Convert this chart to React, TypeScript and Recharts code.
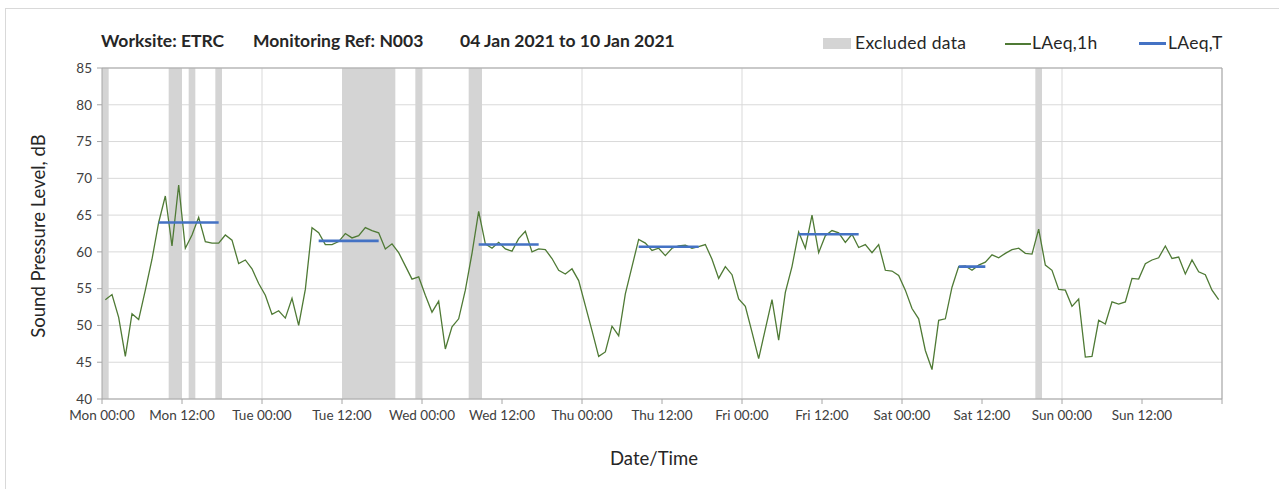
import React from "react"
import {
  ComposedChart,
  Line,
  XAxis,
  YAxis,
  CartesianGrid,
  ReferenceArea,
  ReferenceLine,
} from "recharts"

// hourly LAeq,1h per day, 00:00 .. 23:00
const MON = [53.5, 54.2, 51.1, 45.8, 51.6, 50.8, 54.8, 59.0, 64.0, 67.6, 60.8, 69.1, 60.5, 62.3, 64.7, 61.4, 61.2, 61.2, 62.3, 61.6, 58.4, 58.9, 57.7, 55.7]
const TUE = [54.1, 51.5, 52.0, 51.0, 53.7, 50.0, 54.9, 63.3, 62.6, 61.0, 61.0, 61.4, 62.5, 61.9, 62.2, 63.3, 62.9, 62.6, 60.4, 61.1, 59.9, 58.1, 56.3, 56.6]
const WED = [54.1, 51.8, 53.3, 46.8, 49.8, 50.9, 54.8, 59.8, 65.5, 61.1, 60.5, 61.3, 60.4, 60.1, 61.8, 62.8, 60.0, 60.4, 60.3, 59.1, 57.5, 57.0, 57.7, 56.1]
const THU = [52.7, 49.3, 45.8, 46.4, 49.9, 48.6, 54.3, 58.0, 61.7, 61.2, 60.2, 60.5, 59.5, 60.5, 60.8, 60.9, 60.5, 60.7, 61.0, 59.0, 56.4, 58.0, 56.9, 53.6]
const FRI = [52.6, 49.1, 45.5, 49.5, 53.5, 48.0, 54.5, 58.0, 62.7, 60.5, 65.0, 59.9, 62.2, 62.9, 62.6, 61.3, 62.4, 60.6, 61.0, 59.9, 61.0, 57.5, 57.4, 56.8]
const SAT = [54.8, 52.3, 50.9, 46.6, 44.0, 50.7, 50.9, 55.2, 58.0, 58.1, 57.5, 58.2, 58.6, 59.6, 59.2, 59.8, 60.3, 60.5, 59.8, 59.7, 63.1, 58.2, 57.5, 54.9]
const SUN = [54.8, 52.6, 53.6, 45.7, 45.8, 50.7, 50.2, 53.2, 52.9, 53.2, 56.4, 56.3, 58.4, 58.9, 59.2, 60.8, 59.1, 59.3, 57.0, 58.9, 57.3, 56.9, 54.8, 53.5]
const DAYS = [MON, TUE, WED, THU, FRI, SAT, SUN]

// LAeq,T over the daytime period of each day (first/last hour included)
const LAEQ_T = [64.0, 61.5, 61.0, 60.7, 62.4, 58.0, null]
const T_FROM_HOUR = [8, 8, 8, 8, 8, 8, 0]
const T_TO_HOUR = [17, 17, 17, 17, 17, 12, 0]

// excluded periods, hours from Mon 00:00
const EXCLUDED_FROM = [0, 10, 13, 17, 36, 47, 55, 140]
const EXCLUDED_TO = [1, 12, 14, 18, 44, 48, 57, 141]

const TICK_LABELS = [
  "Mon 00:00", "Mon 12:00", "Tue 00:00", "Tue 12:00", "Wed 00:00", "Wed 12:00", "Thu 00:00",
  "Thu 12:00", "Fri 00:00", "Fri 12:00", "Sat 00:00", "Sat 12:00", "Sun 00:00", "Sun 12:00",
]

const rows = DAYS.flatMap((vals, d) =>
  vals.map((v, hr) => {
    const t = LAEQ_T[d]
    const inT = t !== null && hr >= T_FROM_HOUR[d] && hr <= T_TO_HOUR[d]
    return { h: d * 24 + hr + 0.5, laeq1h: v, laeqT: inT ? t : null }
  })
)

const ticks = [...TICK_LABELS.map((_, i) => i * 12), 168]
const dayLines = [24, 48, 72, 96, 120, 144, 168]

const FONT = "Lato, 'Open Sans', sans-serif"
const AXIS = "#a6a6a6"

export default function App() {
  return (
    <div
      style={{
        position: "absolute",
        left: 0,
        top: 0,
        width: 1279,
        height: 489,
        overflow: "hidden",
        background: "#fff",
        fontFamily: FONT,
        color: "#262626",
      }}
    >
      <div
        style={{
          position: "absolute",
          left: 5,
          top: 8,
          width: 1400,
          height: 600,
          border: "1px solid #d9d9d9",
        }}
      />
      <div style={{ position: "absolute", top: 30, left: 101, fontSize: 17.5, fontWeight: 700, whiteSpace: "nowrap" }}>
        <span style={{ position: "absolute", left: 0 }}>Worksite: ETRC</span>
        <span style={{ position: "absolute", left: 152 }}>Monitoring Ref: N003</span>
        <span style={{ position: "absolute", left: 359 }}>04 Jan 2021 to 10 Jan 2021</span>
      </div>

      {/* legend */}
      <div style={{ position: "absolute", top: 32, left: 0, fontSize: 17.5, letterSpacing: 0.3, whiteSpace: "nowrap" }}>
        <div style={{ position: "absolute", left: 823, top: 6, width: 28, height: 11, background: "#d4d4d4" }} />
        <span style={{ position: "absolute", left: 855 }}>Excluded data</span>
        <div style={{ position: "absolute", left: 1005, top: 11, width: 26, height: 1.5, background: "#4f7a35" }} />
        <span style={{ position: "absolute", left: 1032 }}>LAeq,1h</span>
        <div style={{ position: "absolute", left: 1139, top: 10, width: 27, height: 3, background: "#4472c4" }} />
        <span style={{ position: "absolute", left: 1168 }}>LAeq,T</span>
      </div>

      <ComposedChart
        width={1279}
        height={489}
        data={rows}
        margin={{ top: 68, right: 57, bottom: 60, left: 0 }}
      >
        {EXCLUDED_FROM.map((from, i) => (
          <ReferenceArea
            key={i}
            x1={from}
            x2={EXCLUDED_TO[i]}
            fill="#d4d4d4"
            fillOpacity={1}
            stroke="none"
          />
        ))}
        <CartesianGrid stroke="#d9d9d9" verticalValues={dayLines} />
        <ReferenceLine y={85} stroke={AXIS} />
        <ReferenceLine x={168} stroke={AXIS} />
        <XAxis
          type="number"
          dataKey="h"
          domain={[0, 168]}
          ticks={ticks}
          interval={0}
          tickFormatter={(v: number) => TICK_LABELS[v / 12] ?? ""}
          height={30}
          tickSize={5}
          tickMargin={6}
          stroke={AXIS}
          tick={{ fill: "#404040", fontSize: 13.5, fontFamily: FONT }}
        />
        <YAxis
          type="number"
          domain={[40, 85]}
          ticks={[40, 45, 50, 55, 60, 65, 70, 75, 80, 85]}
          interval={0}
          width={102}
          tickSize={5}
          tickMargin={5}
          stroke={AXIS}
          tick={{ fill: "#404040", fontSize: 13.5, fontFamily: FONT }}
        />
        <Line
          type="linear"
          dataKey="laeq1h"
          stroke="#4f7a35"
          strokeWidth={1.3}
          dot={false}
          isAnimationActive={false}
        />
        <Line
          type="linear"
          dataKey="laeqT"
          stroke="#4472c4"
          strokeWidth={2.6}
          dot={false}
          connectNulls={false}
          isAnimationActive={false}
        />
      </ComposedChart>

      <div
        style={{
          position: "absolute",
          left: 38,
          top: 236,
          transform: "translate(-50%, -50%) rotate(-90deg)",
          fontSize: 18.5,
          whiteSpace: "nowrap",
        }}
      >
        Sound Pressure Level, dB
      </div>
      <div
        style={{
          position: "absolute",
          left: 654,
          top: 458,
          transform: "translate(-50%, -50%)",
          fontSize: 18.5,
        }}
      >
        Date/Time
      </div>
    </div>
  )
}
